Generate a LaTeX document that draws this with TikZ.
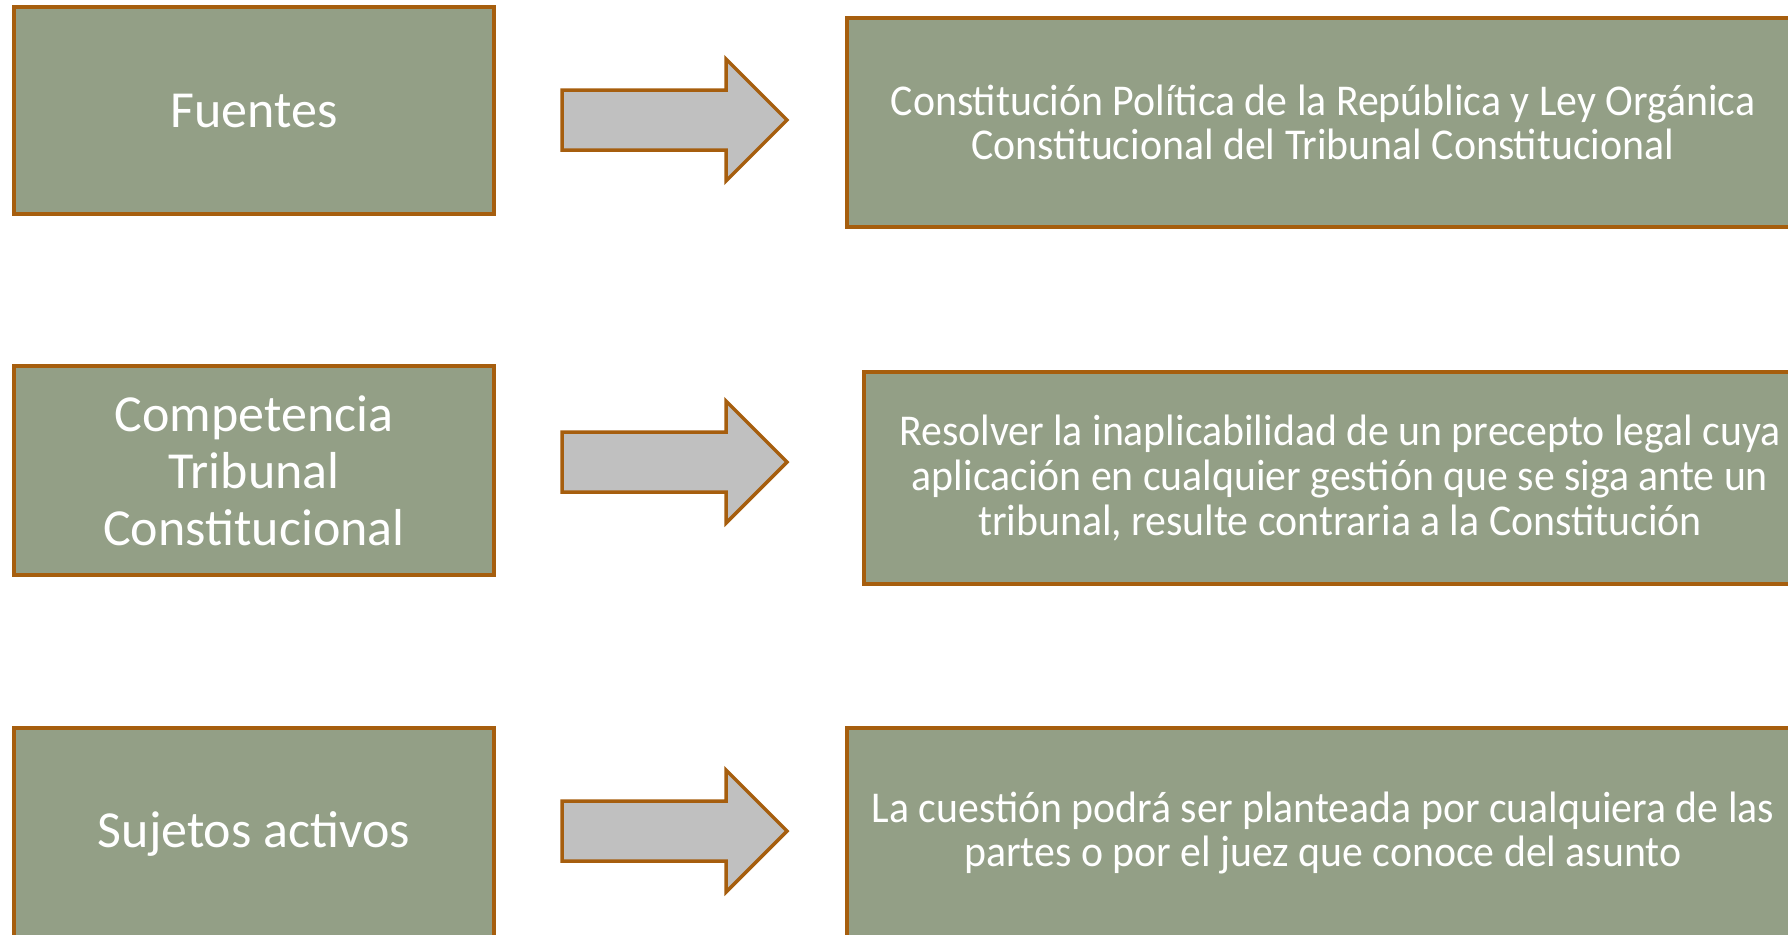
\documentclass[tikz,border=0pt]{standalone}
\usepackage{fontspec}
\setmainfont{Carlito}
\newfontfamily\rfont[FakeStretch=0.95]{Carlito}
\definecolor{boxfill}{RGB}{147,159,134}
\definecolor{boxline}{RGB}{166,94,14}
\definecolor{arrfill}{RGB}{192,192,192}
\tikzset{
  lbox/.style={draw=boxline, fill=boxfill, line width=1.75pt, text=white,
    minimum width=240pt, inner sep=0pt, align=center,
    font=\fontsize{26}{28.5}\selectfont},
  rbox/.style={draw=boxline, fill=boxfill, line width=1.75pt, text=white,
    minimum width=476pt, inner sep=0pt, align=center,
    font=\rfont\fontsize{22}{22.3}\selectfont},
  arrbox/.style={draw=boxline, fill=arrfill, line width=1.75pt, line join=miter}
}
\begin{document}
\begin{tikzpicture}[x=0.5pt,y=-0.5pt]
\useasboundingbox (0,0) rectangle (1788,934);
\clip (0,0) rectangle (1788,934);
\fill[white] (0,0) rectangle (1788,934);
% left boxes
\node[lbox, minimum height=103.5pt] (l1) at (254,110.5) {\raisebox{-1pt}{Fuentes}};
\node[lbox, minimum height=104.5pt] (l2) at (254,470.5) {Competencia\\Tribunal\\Constitucional};
\node[lbox, minimum height=106pt] (l3) at (254,834) {\raisebox{-1.5pt}{Sujetos activos}};
% right boxes
\node[rbox, minimum height=104.5pt] (r1) at (1323,122.5) {Constitución Política de la República y Ley Orgánica\\Constitucional del Tribunal Constitucional};
\node[rbox, minimum height=106pt] (r2) at (1340,478) {Resolver la inaplicabilidad de un precepto legal cuya\\aplicación en cualquier gestión que se siga ante un\\tribunal, resulte contraria a la Constitución};
\node[rbox, minimum height=105pt] (r3) at (1323,833) {La cuestión podrá ser planteada por cualquiera de las\\partes o por el juez que conoce del asunto};
% arrows
\coordinate (a1) at (562,120);
\coordinate (a2) at (562,462);
\coordinate (a3) at (562,831);
\foreach \a in {a1,a2,a3}{
  \draw[arrbox] (\a) ++(0,-30) -- ++(164,0) -- ++(0,-31) -- ++(61,61) -- ++(-61,61) -- ++(0,-31) -- ++(-164,0) -- cycle;
}
\end{tikzpicture}
\end{document}
